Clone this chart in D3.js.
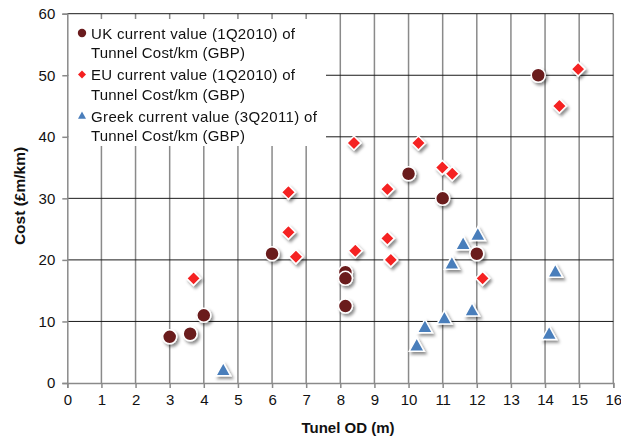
<!DOCTYPE html>
<html><head><meta charset="utf-8">
<script src="https://cdn.jsdelivr.net/npm/d3@7"></script>
<style>body{margin:0;background:#fff}svg{display:block}text{font-family:"Liberation Sans",Arial,sans-serif}</style>
</head><body>
<svg id="c" width="621" height="436"></svg>
<script>
const ukX = [3, 3.6, 4, 6, 8.15, 8.15, 8.15, 10, 11, 12, 13.8];
const ukY = [7.5, 8, 11, 21, 18, 17, 12.5, 34, 30, 21, 50];
const euX = [3.7, 6.48, 6.48, 6.7, 8.4, 8.44, 9.38, 9.38, 9.48, 10.29, 10.99, 11.28, 12.17, 14.42, 14.97];
const euY = [17, 31, 24.5, 20.5, 39, 21.5, 31.5, 23.5, 20, 39, 35, 34, 17, 45, 51];
const grX = [4.57, 10.24, 10.48, 11.05, 11.27, 11.6, 11.86, 12.03, 14.12, 14.3];
const grY = [2, 6, 9, 10.4, 19.3, 22.5, 11.7, 24, 7.9, 18];
const xTicks = d3.range(0, 17, 1);
const yTicks = [0, 10, 20, 30, 40, 50, 60];
const legendLabels = [
  ["UK current value (1Q2010) of", "Tunnel Cost/km (GBP)"],
  ["EU current value (1Q2010) of", "Tunnel Cost/km (GBP)"],
  ["Greek current value (3Q2011) of", "Tunnel Cost/km (GBP)"]
];
const xTitle = "Tunel OD (m)";
const yTitle = "Cost (£m/km)";

const svg = d3.select("#c");
const L = 67.3, R = 613.3, T = 13.7, B = 383;
const x = d3.scaleLinear().domain([0, 16]).range([L, R]);
const y = d3.scaleLinear().domain([0, 60]).range([B, T]);

const defs = svg.append("defs");
const f = defs.append("filter").attr("id", "sh").attr("x", "-50%").attr("y", "-50%").attr("width", "200%").attr("height", "200%");
f.append("feDropShadow").attr("dx", 2).attr("dy", 2.5).attr("stdDeviation", 1.6).attr("flood-color", "#000").attr("flood-opacity", 0.45);

// vertical grid
svg.append("g").selectAll("line").data(xTicks.slice(1)).join("line")
  .attr("x1", d => x(d)).attr("x2", d => x(d)).attr("y1", T).attr("y2", B)
  .attr("stroke", "#8a8a8a").attr("stroke-width", 1.5);
// horizontal grid
svg.append("g").selectAll("line").data(yTicks.slice(1)).join("line")
  .attr("x1", L).attr("x2", R).attr("y1", d => y(d)).attr("y2", d => y(d))
  .attr("stroke", "#1a1a1a").attr("stroke-width", 1);

// legend background
svg.append("rect").attr("x", L + 1).attr("y", 19).attr("width", 326 - L - 1).attr("height", 127).attr("fill", "#fff");

// axes
const xAxis = svg.append("g").attr("transform", `translate(0,${B})`)
  .call(d3.axisBottom(x).tickValues(xTicks).tickSize(5).tickPadding(6).tickFormat(d3.format("d")));
const yAxis = svg.append("g").attr("transform", `translate(${L},0)`)
  .call(d3.axisLeft(y).tickValues(yTicks).tickSize(5).tickPadding(7).tickFormat(d3.format("d")));
[xAxis, yAxis].forEach(a => {
  a.select(".domain").attr("stroke", "#8a8a8a").attr("stroke-width", 1.5);
  a.selectAll(".tick line").attr("stroke", "#8a8a8a").attr("stroke-width", 1.5);
  a.selectAll("text").attr("font-size", 15).attr("fill", "#111").attr("font-family", '"Liberation Sans",Arial,sans-serif');
});

// titles
svg.append("text").attr("x", 348).attr("y", 433).attr("text-anchor", "middle")
  .attr("font-size", 15).attr("font-weight", "bold").attr("fill", "#111").text(xTitle);
svg.append("text").attr("transform", "translate(25,196) rotate(-90)").attr("text-anchor", "middle")
  .attr("font-size", 15.5).attr("font-weight", "bold").attr("fill", "#111").text(yTitle);

const ukCol = "#6a1c1e", euCol = "#f52020", grCol = "#4a7ebb";
const diamond = d3.symbol().type(d3.symbolSquare);
function tri(s) { const h = s * 0.9; return `M0,${-h*0.62}L${s/2},${h*0.38}L${-s/2},${h*0.38}Z`; }

const pts = svg.append("g").attr("filter", "url(#sh)");
pts.selectAll(".gr").data(grX.map((d, i) => [d, grY[i]])).join("path")
  .attr("d", tri(15)).attr("transform", d => `translate(${x(d[0])},${y(d[1])})`)
  .attr("fill", grCol).attr("stroke", "#fff").attr("stroke-width", 1.5);
pts.selectAll(".eu").data(euX.map((d, i) => [d, euY[i]])).join("path")
  .attr("d", "M0,-7L7,0L0,7L-7,0Z").attr("transform", d => `translate(${x(d[0])},${y(d[1])})`)
  .attr("fill", euCol).attr("stroke", "#fff").attr("stroke-width", 1.5);
pts.selectAll(".uk").data(ukX.map((d, i) => [d, ukY[i]])).join("circle")
  .attr("cx", d => x(d[0])).attr("cy", d => y(d[1])).attr("r", 7)
  .attr("fill", ukCol).attr("stroke", "#fff").attr("stroke-width", 1.5);

// legend
const lg = svg.append("g");
const ly = [33, 74.5, 116];
legendLabels.forEach((lab, i) => {
  const g = lg.append("g").attr("transform", `translate(0,${ly[i]})`);
  if (i === 0) g.append("circle").attr("cx", 82).attr("cy", 0).attr("r", 4.2).attr("fill", ukCol);
  if (i === 1) g.append("path").attr("d", "M0,-4L4,0L0,4L-4,0Z").attr("transform", "translate(82,0)").attr("fill", euCol);
  if (i === 2) g.append("path").attr("d", tri(8)).attr("transform", "translate(82,0)").attr("fill", grCol);
  lab.forEach((t, j) => g.append("text").attr("x", 91).attr("y", j * 19.5 + 5.5)
    .attr("font-size", 15).attr("fill", "#111").attr("textLength", j === 0 ? (i === 2 ? 226 : 204) : 154)
    .attr("lengthAdjust", "spacing").text(t));
});
</script>
</body></html>
